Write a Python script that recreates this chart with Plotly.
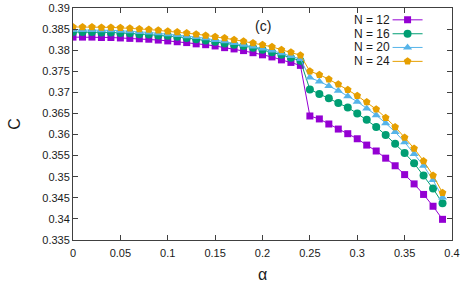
import plotly.graph_objects as go

alpha = [round(i * 0.01, 2) for i in range(40)]

C_N12 = [0.3831, 0.3831, 0.3831, 0.3830, 0.3830, 0.3829, 0.3828, 0.3827, 0.3826, 0.3824,
         0.3822, 0.3820, 0.3818, 0.3815, 0.3813, 0.3810, 0.3806, 0.3803, 0.3799, 0.3794,
         0.3789, 0.3784, 0.3777, 0.3771, 0.3764,
         0.3644, 0.3637, 0.3625, 0.3613, 0.3602, 0.3590, 0.3575, 0.3561, 0.3544, 0.3526,
         0.3505, 0.3483, 0.3458, 0.3430, 0.3399]
C_N16 = [0.3843, 0.3843, 0.3843, 0.3842, 0.3842, 0.3841, 0.3840, 0.3838, 0.3837, 0.3835,
         0.3834, 0.3832, 0.3829, 0.3826, 0.3823, 0.3820, 0.3816, 0.3813, 0.3810, 0.3806,
         0.3801, 0.3795, 0.3789, 0.3782, 0.3775,
         0.3707, 0.3696, 0.3686, 0.3675, 0.3664, 0.3650, 0.3635, 0.3618, 0.3599, 0.3578,
         0.3556, 0.3532, 0.3503, 0.3472, 0.3437]
C_N20 = [0.3848, 0.3848, 0.3848, 0.3847, 0.3847, 0.3846, 0.3845, 0.3843, 0.3842, 0.3840,
         0.3838, 0.3836, 0.3833, 0.3831, 0.3828, 0.3824, 0.3821, 0.3817, 0.3813, 0.3809,
         0.3804, 0.3799, 0.3793, 0.3786, 0.3779,
         0.3735, 0.3726, 0.3715, 0.3704, 0.3691, 0.3678, 0.3662, 0.3646, 0.3627, 0.3606,
         0.3582, 0.3554, 0.3526, 0.3492, 0.3451]
C_N24 = [0.3855, 0.3855, 0.3855, 0.3854, 0.3854, 0.3853, 0.3852, 0.3850, 0.3849, 0.3847,
         0.3845, 0.3843, 0.3841, 0.3838, 0.3835, 0.3832, 0.3829, 0.3825, 0.3821, 0.3817,
         0.3813, 0.3808, 0.3801, 0.3795, 0.3788,
         0.3750, 0.3742, 0.3731, 0.3719, 0.3706, 0.3692, 0.3677, 0.3660, 0.3640, 0.3618,
         0.3593, 0.3567, 0.3537, 0.3503, 0.3462]

series_names = ["N = 12", "N = 16", "N = 20", "N = 24"]
series_values = [C_N12, C_N16, C_N20, C_N24]
colors = ["#9400d3", "#009e73", "#56b4e9", "#e69f00"]
symbols = ["square", "circle", "triangle-up", "pentagon"]
sizes = [7, 8, 8, 8]

x_ticks = [0, 0.05, 0.1, 0.15, 0.2, 0.25, 0.3, 0.35, 0.4]
x_tick_labels = ["0", "0.05", "0.1", "0.15", "0.2", "0.25", "0.3", "0.35", "0.4"]
y_ticks = [0.335, 0.34, 0.345, 0.35, 0.355, 0.36, 0.365, 0.37, 0.375, 0.38, 0.385, 0.39]
y_tick_labels = ["0.335", "0.34", "0.345", "0.35", "0.355", "0.36", "0.365", "0.37",
                 "0.375", "0.38", "0.385", "0.39"]

FONT = "Liberation Sans, Arial, sans-serif"
TXT = "#1a1a1a"

fig = go.Figure()
legend_ids = ["legend", "legend2", "legend3", "legend4"]
for vals, col, sym, sz, lg in zip(series_values, colors, symbols, sizes, legend_ids):
    fig.add_trace(go.Scatter(
        x=alpha, y=vals, mode="lines+markers", name="",
        legend=lg,
        line=dict(color=col, width=1),
        marker=dict(symbol=sym, size=sz, color=col, line=dict(width=0)),
    ))

axis_common = dict(
    showline=True, linecolor="#404040", linewidth=1, mirror="ticks",
    ticks="inside", ticklen=5, tickcolor="#404040", tickwidth=1,
    showgrid=False, zeroline=False, automargin=False,
    tickfont=dict(family=FONT, size=11, color=TXT),
)

legend_y = [0.949, 0.889, 0.830, 0.770]
legend_x = 0.830
text_x = 0.842
layout_legends = {}
annotations = [dict(x=0.2, y=0.3858, xref="x", yref="y", text="(c)",
                    showarrow=False, font=dict(family=FONT, size=14, color=TXT))]
for lg, name, ly in zip(legend_ids, series_names, legend_y):
    layout_legends[lg] = dict(
        x=legend_x, y=ly, xanchor="left", yanchor="middle",
        bgcolor="rgba(0,0,0,0)", font=dict(family=FONT, size=12, color=TXT),
        itemwidth=30,
    )
    annotations.append(dict(x=text_x, y=ly, xref="paper", yref="paper", text=name,
                            xanchor="right", yanchor="middle", showarrow=False,
                            font=dict(family=FONT, size=12, color=TXT)))

fig.update_layout(
    width=474, height=285,
    margin=dict(l=73, r=22, t=5, b=45),
    paper_bgcolor="white", plot_bgcolor="white",
    font=dict(family=FONT, color=TXT),
    xaxis=dict(range=[0, 0.4], tickvals=x_ticks, ticktext=x_tick_labels,
               ticklabelstandoff=3,
               title=dict(text="α", font=dict(family=FONT, size=16, color=TXT), standoff=10),
               **axis_common),
    yaxis=dict(range=[0.33499999, 0.39000001], tickvals=y_ticks, ticktext=y_tick_labels,
               title=dict(text="C", font=dict(family=FONT, size=16, color=TXT), standoff=17),
               **axis_common),
    showlegend=True,
    annotations=annotations,
    **layout_legends,
)

fig.write_html("out.html", config={"displayModeBar": False},
               post_script="document.body.style.margin='0';")
